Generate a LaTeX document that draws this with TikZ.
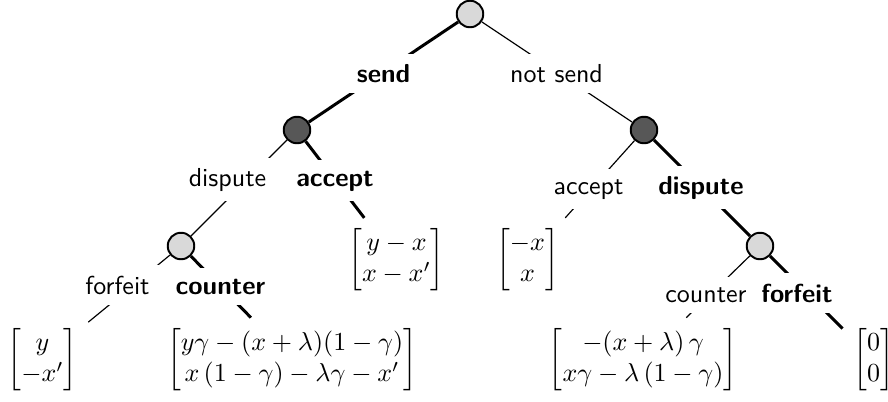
\documentclass[tikz,border=0pt]{standalone}
\usepackage{amsmath}
\tikzset{
  px/.style={x=0.3846pt,y=-0.3846pt},
  dec/.style={circle, draw, line width=0.75pt, minimum size=10.2pt, inner sep=0pt},
  light/.style={dec, fill=black!15},
  dark/.style={dec, fill=black!66},
  lbl/.style={fill=white, inner sep=4pt, anchor=base, font=\sffamily},
  blbl/.style={lbl, font=\sffamily\bfseries},
  pay/.style={inner sep=4pt},
  weak/.style={line width=0.45pt},
  strong/.style={line width=1.15pt}
}
\begin{document}
\begin{tikzpicture}[px]
\useasboundingbox (0,0) rectangle (888,401);
% decision nodes
\node[light] (r) at (470,14) {};
\node[dark] (a) at (297,130) {};
\node[dark] (b) at (644,130) {};
\node[light] (c) at (181,246) {};
\node[light] (d) at (760,246) {};
% payoffs
\node[pay] (m3) at (396.5,260) {$\begin{bmatrix} y-x\\ x-x'\end{bmatrix}$};
\node[pay] (m4) at (527.5,260) {$\begin{bmatrix} -x\\ x\end{bmatrix}$};
\node[pay,anchor=north] (m1) at (42.5,317.6) {$\begin{bmatrix} y\\ -x'\end{bmatrix}$};
\node[pay,anchor=north] (m2) at (292,317.6) {$\begin{bmatrix} y\gamma-(x+\lambda)(1-\gamma)\\ x\,(1-\gamma)-\lambda\gamma-x'\end{bmatrix}$};
\node[pay,anchor=north] (m5) at (643,317.6) {$\begin{bmatrix} -(x+\lambda)\,\gamma\\ x\gamma-\lambda\,(1-\gamma)\end{bmatrix}$};
\node[pay,anchor=north west] (m6) at (842.6,317.6) {$\begin{bmatrix}0\\0\end{bmatrix}$};
% edges
\draw[strong] (r) -- (a);
\draw[weak] (r) -- (b);
\draw[weak] (a) -- (c);
\draw[strong] (a) -- (m3);
\draw[weak] (b) -- (m4);
\draw[strong] (b) -- (d);
\draw[weak] (c) -- (m1);
\draw[strong] (c) -- (m2);
\draw[weak] (d) -- (m5);
\draw[strong] (d) -- (m6);
% labels
\node[blbl] (l1) at (383.5,82) {send};
\node[lbl] (l2) at (556.5,82) {not send};
\node[lbl] (l3) at (227.5,186) {dispute};
\node[blbl] (l4) at (335,186) {accept};
\node[lbl] (l5) at (588.5,194) {accept};
\node[blbl] (l6) at (701,194) {dispute};
\node[lbl] (l7) at (117.5,294) {forfeit};
\node[blbl] (l8) at (220.5,294) {counter};
\node[lbl] (l9) at (706,302) {counter};
\node[blbl] (l10) at (797,302) {forfeit};
\end{tikzpicture}
\end{document}
